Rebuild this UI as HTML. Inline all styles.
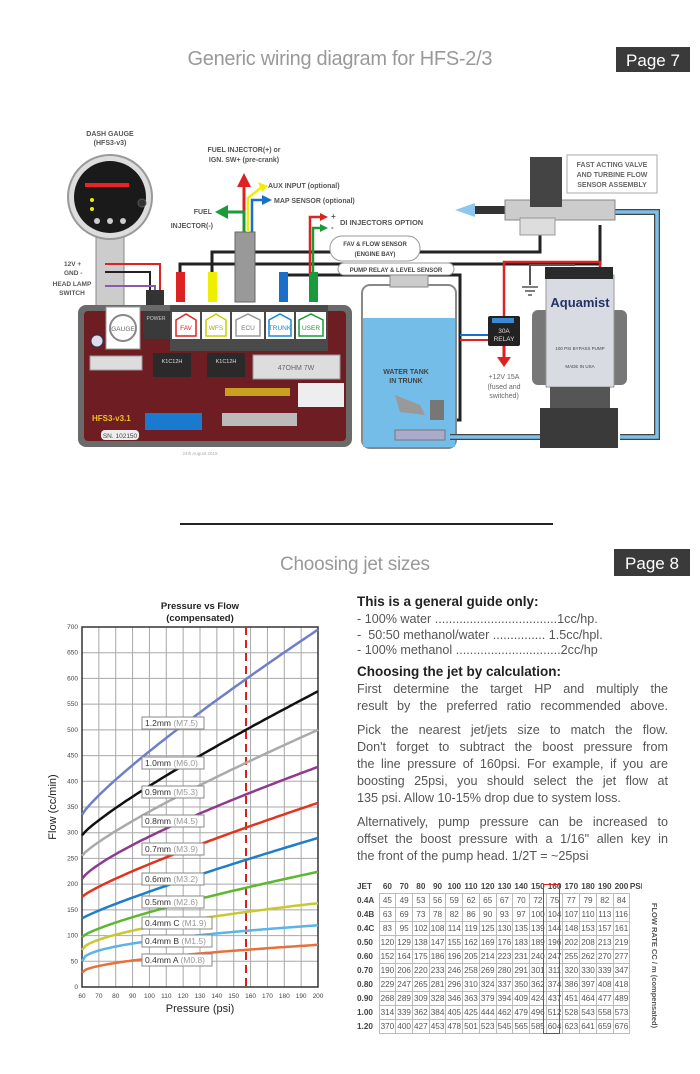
<!DOCTYPE html>
<html><head><meta charset="utf-8"><style>
html,body{margin:0;padding:0;background:#fff}
body{width:700px;height:1074px;position:relative;overflow:hidden;font-family:"Liberation Sans",sans-serif}
.p{position:absolute;left:357px;width:311px;font-size:12.6px;color:#555;text-align:justify;text-align-last:justify;line-height:17px;white-space:nowrap}
.b{font-weight:bold;color:#222;font-size:13.5px;text-align-last:left}
svg text{font-family:"Liberation Sans",sans-serif}
table{position:absolute;left:357px;top:880px;border-collapse:collapse;font-size:8.2px;color:#555;table-layout:fixed;width:285px}
td{border:1px solid #bbb;padding:0;height:13px;text-align:center;line-height:11px;overflow:hidden}
td.j,th.j{border:none;font-weight:bold;color:#444;text-align:left}
th{font-weight:bold;color:#444;height:13px;font-size:8.2px;padding:0;overflow:hidden}
</style></head><body>
<svg width="700" height="1074" style="position:absolute;left:0;top:0" id="s">
<text x="340" y="65" font-size="20" fill="#999" text-anchor="middle" textLength="305">Generic wiring diagram for HFS-2/3</text>
<rect x="616" y="47" width="74" height="25" fill="#3a3a3a"/>
<text x="653" y="66" font-size="17" fill="#fff" text-anchor="middle">Page 7</text>
<line x1="180" y1="524" x2="553" y2="524" stroke="#222" stroke-width="2"/>
<text x="355" y="570" font-size="19" fill="#999" text-anchor="middle" textLength="150">Choosing jet sizes</text>
<rect x="614" y="549" width="76" height="27" fill="#3a3a3a"/>
<text x="652" y="569" font-size="17" fill="#fff" text-anchor="middle">Page 8</text>

<text x="110" y="136" font-size="7" fill="#555" text-anchor="middle" font-weight="bold">DASH GAUGE</text>
<text x="110" y="145" font-size="7" fill="#555" text-anchor="middle" font-weight="bold">(HFS3-v3)</text>
<rect x="96" y="230" width="28" height="80" fill="#ccc" stroke="#888"/>
<circle cx="110" cy="197" r="42" fill="#ddd" stroke="#999" stroke-width="2"/>
<circle cx="110" cy="197" r="36" fill="#1a1a1a"/>
<rect x="85" y="183" width="44" height="4" fill="#e22"/>
<circle cx="92" cy="200" r="2" fill="#ee0"/><circle cx="92" cy="209" r="2" fill="#ee0"/>
<circle cx="142" cy="203" r="4" fill="#333" stroke="#555"/>
<circle cx="97" cy="221" r="3" fill="#ccc"/><circle cx="110" cy="221" r="3" fill="#ccc"/><circle cx="123" cy="221" r="3" fill="#ccc"/>
<text x="64" y="266" font-size="6.5" fill="#555" font-weight="bold">12V +</text>
<text x="64" y="275" font-size="6.5" fill="#555" font-weight="bold">GND -</text>
<text x="72" y="286" font-size="6.5" fill="#555" font-weight="bold" text-anchor="middle">HEAD LAMP</text>
<text x="72" y="295" font-size="6.5" fill="#555" font-weight="bold" text-anchor="middle">SWITCH</text>
<polyline points="105,264 160,264 160,300" fill="none" stroke="#d22" stroke-width="2"/>
<polyline points="105,272 150,272 150,300" fill="none" stroke="#222" stroke-width="2"/>
<polyline points="105,286 155,286 155,300" fill="none" stroke="#8a5ab0" stroke-width="2"/>
<rect x="146" y="290" width="18" height="18" fill="#333"/>
<polyline points="180,300 180,264 600,264 600,225" fill="none" stroke="#222" stroke-width="3"/>
<polyline points="212,300 212,252 540,252 540,225" fill="none" stroke="#222" stroke-width="3"/>
<polyline points="283,300 283,275 460,275 460,420 440,420" fill="none" stroke="#222" stroke-width="3"/>
<polyline points="313,300 313,273" fill="none" stroke="#222" stroke-width="3"/>
<rect x="176" y="272" width="9" height="30" fill="#d22"/>
<rect x="208" y="272" width="9" height="30" fill="#ee0"/>
<rect x="279" y="272" width="9" height="30" fill="#1a6fc8"/>
<rect x="309" y="272" width="9" height="30" fill="#1a9a3a"/>
<rect x="235" y="232" width="20" height="70" fill="#999" stroke="#666"/>
<rect x="330" y="236" width="90" height="25" rx="12" fill="#fff" stroke="#999"/>
<text x="375" y="246" font-size="6" fill="#444" text-anchor="middle" font-weight="bold">FAV &amp; FLOW SENSOR</text>
<text x="375" y="256" font-size="6" fill="#444" text-anchor="middle" font-weight="bold">(ENGINE BAY)</text>
<rect x="338" y="263" width="116" height="12" rx="6" fill="#fff" stroke="#999"/>
<text x="396" y="272" font-size="6" fill="#444" text-anchor="middle" font-weight="bold">PUMP RELAY &amp; LEVEL SENSOR</text>
<polyline points="244,232 244,185" stroke="#d22" stroke-width="3" fill="none"/><polygon points="237,187 251,187 244,173" fill="#d22"/>
<polyline points="244,232 244,212 232,212 226,212" stroke="#1a9a3a" stroke-width="3" fill="none"/><polygon points="228,205 228,219 215,212" fill="#1a9a3a"/>
<polyline points="248,232 248,198 258,190 262,187" stroke="#ee0" stroke-width="2.5" fill="none"/><polygon points="258,182 268,186 262,192" fill="#ee0"/>
<polyline points="252,232 252,200 264,200" stroke="#1a6fc8" stroke-width="2.5" fill="none"/><polygon points="262,195 262,205 272,200" fill="#1a6fc8"/>
<text x="244" y="152" font-size="7" fill="#555" text-anchor="middle" font-weight="bold">FUEL INJECTOR(+) or</text>
<text x="244" y="162" font-size="7" fill="#555" text-anchor="middle" font-weight="bold">IGN. SW+ (pre-crank)</text>
<text x="268" y="188" font-size="7" fill="#555" font-weight="bold">AUX INPUT (optional)</text>
<text x="274" y="203" font-size="7" fill="#555" font-weight="bold">MAP SENSOR (optional)</text>
<text x="212" y="214" font-size="7" fill="#555" text-anchor="end" font-weight="bold">FUEL</text>
<text x="213" y="228" font-size="7" fill="#555" text-anchor="end" font-weight="bold">INJECTOR(-)</text>
<polyline points="313,273 313,228 322,228" stroke="#1a9a3a" stroke-width="2.5" fill="none"/><polygon points="320,224 320,232 328,228" fill="#1a9a3a"/>
<polyline points="310,273 310,217 322,217" stroke="#d22" stroke-width="2.5" fill="none"/><polygon points="320,213 320,221 328,217" fill="#d22"/>
<text x="331" y="219" font-size="8" fill="#555" font-weight="bold">+</text><text x="331" y="230" font-size="8" fill="#555" font-weight="bold">-</text>
<text x="340" y="225" font-size="7.5" fill="#555" font-weight="bold">DI INJECTORS OPTION</text>

<rect x="78" y="305" width="274" height="142" rx="8" fill="#6a6a6a"/>
<rect x="84" y="311" width="262" height="130" rx="4" fill="#6e1d22"/>
<rect x="106" y="307" width="34" height="42" fill="#fff" stroke="#999"/>
<circle cx="123" cy="328" r="13" fill="none" stroke="#888" stroke-width="2"/>
<text x="123" y="331" font-size="6.5" fill="#666" text-anchor="middle">GAUGE</text>
<circle cx="97" cy="341" r="6" fill="#dde" stroke="#335"/>
<rect x="143" y="311" width="26" height="28" fill="#3a3a3a"/>
<text x="156" y="320" font-size="5" fill="#ccc" text-anchor="middle">POWER</text>
<rect x="170" y="305" width="158" height="46" fill="#4a4a4a"/>
<g font-size="6.5" text-anchor="middle">
<rect x="172" y="312" width="28" height="27" fill="#fff"/><path d="M176,336 v-16 l10,-6 l10,6 v16z" fill="none" stroke="#d22" stroke-width="1.5"/><text x="186" y="330" fill="#d22">FAV</text>
<rect x="202" y="312" width="28" height="27" fill="#fff"/><path d="M206,336 v-16 l10,-6 l10,6 v16z" fill="none" stroke="#cc0" stroke-width="1.5"/><text x="216" y="330" fill="#aa0">WFS</text>
<rect x="232" y="312" width="32" height="27" fill="#fff"/><path d="M236,336 v-16 l12,-6 l12,6 v16z" fill="none" stroke="#999" stroke-width="1.5"/><text x="248" y="330" fill="#777">ECU</text>
<rect x="266" y="312" width="28" height="27" fill="#fff"/><path d="M269,336 v-16 l11,-6 l11,6 v16z" fill="none" stroke="#1a8ad0" stroke-width="1.5"/><text x="280" y="330" fill="#1a8ad0">TRUNK</text>
<rect x="296" y="312" width="30" height="27" fill="#fff"/><path d="M299,336 v-16 l12,-6 l12,6 v16z" fill="none" stroke="#1a9a3a" stroke-width="1.5"/><text x="311" y="330" fill="#1a9a3a">USER</text>
</g>
<rect x="90" y="356" width="52" height="14" fill="#ddd" stroke="#999"/>
<rect x="153" y="353" width="38" height="24" fill="#2a2a2a"/><text x="172" y="363" font-size="5.5" fill="#ddd" text-anchor="middle">K1C12H</text>
<rect x="207" y="353" width="38" height="24" fill="#2a2a2a"/><text x="226" y="363" font-size="5.5" fill="#ddd" text-anchor="middle">K1C12H</text>
<rect x="253" y="355" width="87" height="24" fill="#ddd" stroke="#999"/><text x="296" y="370" font-size="7" fill="#666" text-anchor="middle">47OHM 7W</text>
<rect x="298" y="383" width="46" height="24" fill="#eee"/>
<rect x="225" y="388" width="65" height="8" fill="#c9a020"/>
<rect x="145" y="413" width="57" height="17" fill="#1a7ad0"/>
<rect x="222" y="413" width="75" height="13" fill="#bbb"/>
<text x="92" y="421" font-size="8" fill="#f0c020" font-weight="bold">HFS3-v3.1</text>
<rect x="101" y="430" width="38" height="10" rx="4" fill="#eee"/><text x="120" y="438" font-size="6.5" fill="#444" text-anchor="middle">SN. 102150</text>
<text x="200" y="455" font-size="4.5" fill="#aaa" text-anchor="middle">24th August 2015</text>

<rect x="362" y="285" width="94" height="163" rx="8" fill="#fff" stroke="#888" stroke-width="2"/>
<rect x="363" y="318" width="92" height="129" fill="#74bde8"/>
<rect x="390" y="275" width="38" height="12" fill="#ccc" stroke="#888"/>
<text x="406" y="374" font-size="7" fill="#444" text-anchor="middle" font-weight="bold">WATER TANK</text>
<text x="406" y="383" font-size="7" fill="#444" text-anchor="middle" font-weight="bold">IN TRUNK</text>
<polygon points="395,395 420,405 425,415 400,412" fill="#999"/>
<rect x="430" y="400" width="14" height="20" fill="#777"/>
<rect x="395" y="430" width="50" height="10" fill="#aac" stroke="#777"/>
<polyline points="460,335 488,335" stroke="#1a6fc8" stroke-width="2"/>
<polyline points="460,340 488,340" stroke="#d22" stroke-width="2"/>
<rect x="488" y="316" width="32" height="30" rx="2" fill="#222"/>
<rect x="492" y="318" width="22" height="5" fill="#3a8ad0"/>
<text x="504" y="333" font-size="6.5" fill="#ddd" text-anchor="middle">30A</text>
<text x="504" y="341" font-size="6.5" fill="#ddd" text-anchor="middle">RELAY</text>
<polyline points="504,346 504,358" stroke="#d22" stroke-width="3"/><polygon points="497,357 511,357 504,367" fill="#d22"/>
<polyline points="504,316 504,262 600,262 600,270" fill="none" stroke="#d22" stroke-width="2.5"/>
<polyline points="575,265 530,265 530,285" fill="none" stroke="#555" stroke-width="2"/>
<path d="M522,287 h16 M525,291 h10 M528,295 h4" stroke="#555" stroke-width="1.5"/>
<text x="504" y="379" font-size="7" fill="#666" text-anchor="middle">+12V 15A</text>
<text x="504" y="389" font-size="7" fill="#666" text-anchor="middle">(fused and</text>
<text x="504" y="398" font-size="7" fill="#666" text-anchor="middle">switched)</text>
<rect x="532" y="310" width="95" height="75" rx="6" fill="#777"/>
<rect x="546" y="275" width="68" height="112" fill="#d8dce2" stroke="#999"/>
<rect x="545" y="267" width="68" height="12" fill="#2a2a2a"/>
<text x="580" y="307" font-size="13" fill="#223366" text-anchor="middle" font-weight="bold">Aquamist</text>
<text x="580" y="350" font-size="4.5" fill="#444" text-anchor="middle">100 PSI BYPASS PUMP</text>
<text x="580" y="368" font-size="4.5" fill="#444" text-anchor="middle">MADE IN USA</text>
<rect x="550" y="387" width="60" height="25" fill="#555"/>
<rect x="540" y="408" width="78" height="40" fill="#3a3a3a"/>
<polyline points="608,212 657,212 657,437 620,437" fill="none" stroke="#444" stroke-width="6"/>
<polyline points="608,212 657,212 657,437 620,437" fill="none" stroke="#7cc0ec" stroke-width="3.5"/>
<polyline points="540,437 450,437" fill="none" stroke="#444" stroke-width="6"/>
<polyline points="540,437 450,437" fill="none" stroke="#7cc0ec" stroke-width="3.5"/>
<polygon points="455,210 475,203 475,217" fill="#8cc8ee"/>
<rect x="475" y="206" width="30" height="8" fill="#333"/>
<rect x="505" y="200" width="110" height="20" fill="#ccc" stroke="#888"/>
<rect x="530" y="157" width="32" height="50" fill="#444"/>
<rect x="520" y="218" width="35" height="17" fill="#ddd" stroke="#999"/>
<rect x="567" y="155" width="90" height="38" fill="#fff" stroke="#aaa"/>
<text x="612" y="167" font-size="7" fill="#666" text-anchor="middle" font-weight="bold">FAST ACTING VALVE</text>
<text x="612" y="177" font-size="7" fill="#666" text-anchor="middle" font-weight="bold">AND TURBINE FLOW</text>
<text x="612" y="187" font-size="7" fill="#666" text-anchor="middle" font-weight="bold">SENSOR ASSEMBLY</text>

<text x="200" y="609" font-size="9.5" fill="#222" text-anchor="middle" font-weight="bold">Pressure vs Flow</text>
<text x="200" y="621" font-size="9.5" fill="#222" text-anchor="middle" font-weight="bold">(compensated)</text>
<g id="grid" stroke="#a8a8a8" stroke-width="1"></g>
<rect x="82" y="627" width="236" height="360" fill="none" stroke="#333" stroke-width="1.5"/>
<line x1="246" y1="627" x2="246" y2="987" stroke="#d82020" stroke-width="2" stroke-dasharray="8,5"/>
<g id="curves" fill="none" stroke-width="2.5"></g>
<g id="labels" font-size="8.5"></g>
<g id="ticks" font-size="6.5" fill="#444"></g>
<text x="200" y="1012" font-size="11" fill="#222" text-anchor="middle">Pressure (psi)</text>
<text x="0" y="0" font-size="11" fill="#222" text-anchor="middle" transform="translate(56,807) rotate(-90)">Flow (cc/min)</text>
</svg>

<div class="p b" style="top:593px">This is a general guide only:</div>
<div class="p" style="top:611px;text-align-last:left">- 100% water ...................................1cc/hp.</div>
<div class="p" style="top:627px;text-align-last:left">-&nbsp; 50:50 methanol/water ............... 1.5cc/hpl.</div>
<div class="p" style="top:642px;text-align-last:left">- 100% methanol ..............................2cc/hp</div>
<div class="p b" style="top:663px">Choosing the jet by calculation:</div>
<div class="p" style="top:681px">First determine the target HP and multiply the</div>
<div class="p" style="top:698px">result by the preferred ratio recommended above.</div>
<div class="p" style="top:722px">Pick the nearest jet/jets size to match the flow.</div>
<div class="p" style="top:739px">Don't forget to subtract the boost pressure from</div>
<div class="p" style="top:756px">the line pressure of 160psi. For example, if you are</div>
<div class="p" style="top:773px">boosting 25psi, you should select the jet flow at</div>
<div class="p" style="top:790px;text-align-last:left">135 psi. Allow 10-15% drop due to system loss.</div>
<div class="p" style="top:814px">Alternatively, pump pressure can be increased to</div>
<div class="p" style="top:831px">offset the boost pressure with a 1/16" allen key in</div>
<div class="p" style="top:848px;text-align-last:left">the front of the pump head. 1/2T = ~25psi</div>

<table id="t"></table>
<div style="position:absolute;left:645px;top:895px;width:20px;height:140px;display:flex;align-items:center;justify-content:center"><div style="transform:rotate(90deg);white-space:nowrap;font-size:7.5px;font-weight:bold;color:#555">FLOW RATE CC / m (compensated)</div></div>
<div style="position:absolute;left:543px;top:884px;width:15px;height:148px;border:1.5px solid #d22"></div>

<script>
var NS="http://www.w3.org/2000/svg";
function el(p,t,a,txt){var e=document.createElementNS(NS,t);for(var k in a)e.setAttribute(k,a[k]);if(txt!==undefined)e.textContent=txt;p.appendChild(e);return e;}
var X=function(p){return 82+(p-60)*236/140},Y=function(v){return 987-v*360/700};
var g=document.getElementById('grid'),tk=document.getElementById('ticks');
for(var p=60;p<=200;p+=10){el(g,'line',{x1:X(p),y1:627,x2:X(p),y2:987});el(tk,'text',{x:X(p),y:998,'text-anchor':'middle'},p);}
for(var v=0;v<=700;v+=50){el(g,'line',{x1:82,y1:Y(v),x2:318,y2:Y(v)});el(tk,'text',{x:78,y:Y(v)+2,'text-anchor':'end'},v);}
var C=[["#6d7fc8",335,605,695,"1.2mm","M7.5",723],["#111",295,505,575,"1.0mm","M6.0",763],["#aaa",255,440,500,"0.9mm","M5.3",792],["#8e3a8e",210,378,428,"0.8mm","M4.5",821],["#e2331f",175,313,358,"0.7mm","M3.9",849],["#1e7ec8",133,250,290,"0.6mm","M3.2",879],["#5cb82e",97,195,224,"0.5mm","M2.6",902],["#c8c830",72,147,163,"0.4mm C","M1.9",923],["#5ab4e6",50,110,120,"0.4mm B","M1.5",941],["#e8703a",28,73,82,"0.4mm A","M0.8",960]];
var cg=document.getElementById('curves'),lg=document.getElementById('labels');
C.forEach(function(c){var a=c[1],e=c[3]-c[1],pts=[];var r=(c[2]-a)/e;var b=Math.log(r)/Math.log(100/140);
for(var p=60;p<=200;p+=2){var v=a+e*Math.pow((p-60)/140,b);pts.push(X(p).toFixed(1)+","+Y(v).toFixed(1));}
el(cg,'polyline',{points:pts.join(' '),stroke:c[0]});
var w=c[4].length>6?70:62;el(lg,'rect',{x:142,y:c[6]-6,width:w,height:12,fill:'#fff',stroke:'#888'});
var t=el(lg,'text',{x:145,y:c[6]+3,fill:'#333'},c[4]+' ');el(t,'tspan',{fill:'#999'},'('+c[5]+')');});
var T=document.getElementById('t');
var rows=[["0.4A",45,49,53,56,59,62,65,67,70,72,75,77,79,82,84],["0.4B",63,69,73,78,82,86,90,93,97,100,104,107,110,113,116],["0.4C",83,95,102,108,114,119,125,130,135,139,144,148,153,157,161],["0.50",120,129,138,147,155,162,169,176,183,189,196,202,208,213,219],["0.60",152,164,175,186,196,205,214,223,231,240,247,255,262,270,277],["0.70",190,206,220,233,246,258,269,280,291,301,311,320,330,339,347],["0.80",229,247,265,281,296,310,324,337,350,362,374,386,397,408,418],["0.90",268,289,309,328,346,363,379,394,409,424,437,451,464,477,489],["1.00",314,339,362,384,405,425,444,462,479,496,512,528,543,558,573],["1.20",370,400,427,453,478,501,523,545,565,585,604,623,641,659,676]];
var h='<colgroup><col style="width:22px">';for(var i=0;i<15;i++)h+='<col style="width:16.7px">';h+='<col style="width:12px"></colgroup>';
h+='<tr><th class="j">JET</th>';for(var p=60;p<=200;p+=10)h+='<th>'+p+'</th>';h+='<th>PSI</th></tr>';
rows.forEach(function(r){h+='<tr><td class="j">'+r[0]+'</td>';for(var i=1;i<r.length;i++)h+='<td>'+r[i]+'</td>';h+='<td style="border:none"></td></tr>';});
T.innerHTML=h;
</script>
</body></html>
